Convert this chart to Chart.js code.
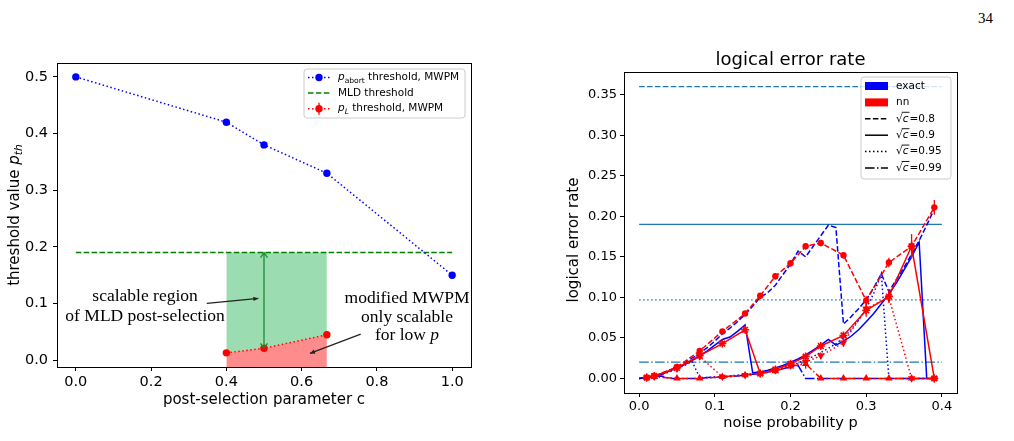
<!DOCTYPE html>
<html>
<head>
<meta charset="utf-8">
<title>threshold and logical error rate</title>
<script src="https://cdn.jsdelivr.net/npm/chart.js@4.4.1/dist/chart.umd.min.js"></script>
<style>
  html, body { margin: 0; padding: 0; background: #fff; }
  body { position: relative; width: 1014px; height: 441px; overflow: hidden; }
  #pageNo { position: absolute; left: 978px; top: 10px; font: 15px 'Liberation Serif', 'DejaVu Serif', serif; color: #000; }
  #leftChart { position: absolute; left: 0; top: 40px; }
  #rightChart { position: absolute; left: 560px; top: 40px; }
</style>
</head>
<body>
<div id="pageNo">34</div>
<canvas id="leftChart" width="490" height="380"></canvas>
<canvas id="rightChart" width="430" height="401"></canvas>
<script>
// ---- left panel: thresholds vs post-selection parameter c ----
const cAbort = [0.0, 0.4, 0.5, 0.667, 1.0];
const pAbortTh = [0.5, 0.42, 0.38, 0.33, 0.15];
const cMld = [0.0, 1.0];
const mldTh = [0.19, 0.19];
const cPL = [0.4, 0.5, 0.667];
const pLTh = [0.013, 0.021, 0.045];
const pLErr = [0.002, 0.003, 0.003];
const leftXTicks = [0.0, 0.2, 0.4, 0.6, 0.8, 1.0];
const leftYTicks = [0.0, 0.1, 0.2, 0.3, 0.4, 0.5];

// ---- right panel: logical error rate vs noise probability p ----
const pExact = [0.00, 0.01, 0.02, 0.03, 0.04, 0.05, 0.06, 0.07, 0.08, 0.09,
                0.10, 0.11, 0.12, 0.13, 0.14, 0.15, 0.16, 0.17, 0.18, 0.19,
                0.20, 0.21, 0.22, 0.23, 0.24, 0.25, 0.26, 0.27, 0.28, 0.29,
                0.30, 0.31, 0.32, 0.33, 0.34, 0.35, 0.36, 0.37, 0.38, 0.39];
const exact08 = [0.000, 0.001, 0.003, 0.006, 0.010, 0.014, 0.019, 0.025, 0.031, 0.038,
                 0.046, 0.055, 0.062, 0.070, 0.079, 0.089, 0.100, 0.106, 0.115, 0.128,
                 0.141, 0.157, 0.150, 0.163, 0.176, 0.189, 0.186, 0.067, 0.076, 0.086,
                 0.097, 0.112, 0.129, 0.107, 0.122, 0.137, 0.153, 0.170, 0.189, 0.209];
const exact09 = [0.000, 0.001, 0.003, 0.005, 0.009, 0.013, 0.017, 0.022, 0.028, 0.034,
                 0.041, 0.048, 0.051, 0.058, 0.066, 0.007, 0.008, 0.010, 0.013, 0.016,
                 0.020, 0.024, 0.029, 0.035, 0.041, 0.048, 0.041, 0.046, 0.052, 0.060,
                 0.070, 0.080, 0.092, 0.104, 0.118, 0.134, 0.150, 0.168, 0.000, 0.000];
const exact095 = [0.000, 0.001, 0.002, 0.005, 0.008, 0.012, 0.016, 0.021, 0.001, 0.001,
                  0.002, 0.002, 0.003, 0.004, 0.005, 0.006, 0.007, 0.009, 0.011, 0.013,
                  0.016, 0.019, 0.023, 0.027, 0.032, 0.037, 0.043, 0.050, 0.060, 0.072,
                  0.086, 0.105, 0.129, 0.000, 0.000, 0.000, 0.000, 0.000, 0.000, 0.000];
const exact099 = [0.000, 0.001, 0.002, 0.003, 0.000, 0.000, 0.000, 0.000, 0.000, 0.001,
                  0.001, 0.002, 0.002, 0.003, 0.004, 0.005, 0.006, 0.008, 0.010, 0.012,
                  0.014, 0.016, 0.000, 0.000, 0.000, 0.000, 0.000, 0.000, 0.000, 0.000,
                  0.000, 0.000, 0.000, 0.000, 0.000, 0.000, 0.000, 0.000, 0.000, 0.000];
const pNN = [0.01, 0.02, 0.05, 0.08, 0.11, 0.14, 0.16, 0.18, 0.20, 0.22, 0.24, 0.27, 0.30, 0.33, 0.36, 0.39];
const nn08  = [0.001, 0.003, 0.014, 0.034, 0.058, 0.080, 0.102, 0.126, 0.142, 0.163, 0.167, 0.152, 0.096, 0.143, 0.163, 0.211];
const nn09  = [0.001, 0.003, 0.013, 0.028, 0.043, 0.060, 0.006, 0.011, 0.018, 0.027, 0.040, 0.053, 0.084, 0.101, 0.163, 0.000];
const nn095 = [0.001, 0.002, 0.012, 0.027, 0.002, 0.004, 0.006, 0.010, 0.016, 0.020, 0.028, 0.044, 0.086, 0.100, 0.000, 0.000];
const nn099 = [0.001, 0.002, 0.000, 0.000, 0.002, 0.004, 0.006, 0.009, 0.015, 0.018, 0.000, 0.000, 0.000, 0.000, 0.000, 0.000];
const err08  = [0.001, 0.001, 0.002, 0.003, 0.003, 0.003, 0.003, 0.004, 0.004, 0.004, 0.004, 0.004, 0.006, 0.006, 0.007, 0.009];
const err09  = [0.001, 0.001, 0.002, 0.003, 0.003, 0.003, 0.002, 0.002, 0.003, 0.003, 0.003, 0.004, 0.008, 0.008, 0.015, 0.001];
const err095 = [0.001, 0.001, 0.002, 0.003, 0.001, 0.001, 0.002, 0.002, 0.003, 0.005, 0.004, 0.005, 0.007, 0.006, 0.001, 0.001];
const err099 = [0.001, 0.001, 0.001, 0.001, 0.001, 0.001, 0.002, 0.002, 0.003, 0.006, 0.001, 0.001, 0.001, 0.001, 0.001, 0.001];
const sqrtC = ['0.8', '0.9', '0.95', '0.99'];
const thrLevels = [0.36, 0.19, 0.097, 0.02];
const thrRange = [0.0, 0.4];
const rightXTicks = [0.0, 0.1, 0.2, 0.3, 0.4];
const rightYTicks = [0.0, 0.05, 0.10, 0.15, 0.20, 0.25, 0.30, 0.35];

const FONT = "'DejaVu Sans', sans-serif";
const SERIF = "'Liberation Serif', 'DejaVu Serif', serif";
const DOT = [1.5, 2.5], DASH = [5.5, 2.4], DASHDOT = [9.6, 2.4, 1.5, 2.4];
const cStyles = [DASH, [], DOT, DASHDOT];
const BLUE = '#0000ff', RED = '#ff0000', TAB = '#1f77b4', GREEN = '#008000';

const pts = (xs, ys) => xs.map((x, i) => ({ x: x, y: ys[i] }));

// --- small drawing helpers ---
function richText(ctx, parts, x, y, size) {
  let cx = x;
  for (const [t, st] of parts) {
    if (st === 'sub') {
      ctx.font = (size * 0.72) + 'px ' + FONT;
      ctx.fillText(t, cx, y + size * 0.3);
    } else if (st === 'isub') {
      ctx.font = 'italic ' + (size * 0.72) + 'px ' + FONT;
      ctx.fillText(t, cx, y + size * 0.3);
    } else if (st === 'i') {
      ctx.font = 'italic ' + size + 'px ' + FONT;
      ctx.fillText(t, cx, y);
    } else if (st === 'sqrt') {
      ctx.font = size + 'px ' + FONT;
      ctx.fillText('\u221a', cx, y);
      cx += ctx.measureText('\u221a').width;
      ctx.font = 'italic ' + size + 'px ' + FONT;
      const w = ctx.measureText(t).width;
      ctx.fillText(t, cx, y);
      ctx.save();
      ctx.lineWidth = 0.9;
      ctx.setLineDash([]);
      ctx.beginPath();
      ctx.moveTo(cx - 1, y - size * 0.62);
      ctx.lineTo(cx + w + 1, y - size * 0.62);
      ctx.stroke();
      ctx.restore();
      cx += w + 1;
      continue;
    } else {
      ctx.font = size + 'px ' + FONT;
      ctx.fillText(t, cx, y);
    }
    cx += ctx.measureText(t).width;
  }
  return cx - x;
}

function measureRich(ctx, parts, size) {
  ctx.save();
  ctx.globalAlpha = 0;
  const w = richText(ctx, parts, 0, 0, size);
  ctx.restore();
  return w;
}

function legendBox(ctx, x, y, w, h) {
  ctx.save();
  ctx.beginPath();
  ctx.roundRect(x, y, w, h, 3);
  ctx.fillStyle = 'rgba(255,255,255,0.8)';
  ctx.fill();
  ctx.strokeStyle = '#cccccc';
  ctx.lineWidth = 1;
  ctx.stroke();
  ctx.restore();
}

function handleLine(ctx, x0, x1, y, color, dash) {
  ctx.save();
  ctx.strokeStyle = color;
  ctx.lineWidth = 1.5;
  ctx.setLineDash(dash);
  ctx.beginPath();
  ctx.moveTo(x0, y);
  ctx.lineTo(x1, y);
  ctx.stroke();
  ctx.restore();
}

function dot(ctx, x, y, r, color) {
  ctx.save();
  ctx.fillStyle = color;
  ctx.beginPath();
  ctx.arc(x, y, r, 0, Math.PI * 2);
  ctx.fill();
  ctx.restore();
}

function arrow(ctx, x0, y0, x1, y1, color) {
  const ang = Math.atan2(y1 - y0, x1 - x0);
  ctx.save();
  ctx.strokeStyle = color;
  ctx.fillStyle = color;
  ctx.lineWidth = 1.2;
  ctx.beginPath();
  ctx.moveTo(x0, y0);
  ctx.lineTo(x1, y1);
  ctx.stroke();
  ctx.beginPath();
  ctx.moveTo(x1, y1);
  ctx.lineTo(x1 - 5 * Math.cos(ang) + 2.2 * Math.sin(ang), y1 - 5 * Math.sin(ang) - 2.2 * Math.cos(ang));
  ctx.lineTo(x1 - 5 * Math.cos(ang) - 2.2 * Math.sin(ang), y1 - 5 * Math.sin(ang) + 2.2 * Math.cos(ang));
  ctx.closePath();
  ctx.fill();
  ctx.restore();
}

function frame(chart) {
  const { ctx, chartArea: a } = chart;
  ctx.save();
  ctx.strokeStyle = '#000';
  ctx.lineWidth = 1;
  ctx.strokeRect(Math.round(a.left) + 0.5, Math.round(a.top) + 0.5,
                 Math.round(a.right - a.left), Math.round(a.bottom - a.top));
  ctx.restore();
}

// vertical error bars for datasets that carry an errorBars array
const errorBarPlugin = {
  id: 'errorBars',
  afterDatasetsDraw(chart) {
    const { ctx } = chart;
    const ys = chart.scales.y;
    chart.data.datasets.forEach((ds, i) => {
      if (!ds.errorBars) return;
      const meta = chart.getDatasetMeta(i);
      ctx.save();
      ctx.strokeStyle = ds.borderColor;
      ctx.lineWidth = 1.3;
      meta.data.forEach((el, j) => {
        const v = ds.data[j].y, e = ds.errorBars[j];
        ctx.beginPath();
        ctx.moveTo(el.x, ys.getPixelForValue(v - e));
        ctx.lineTo(el.x, ys.getPixelForValue(v + e));
        ctx.stroke();
      });
      ctx.restore();
    });
  }
};

function axisCommon(size, pad) {
  return {
    grid: { drawOnChartArea: false, drawTicks: true, tickLength: 4, color: '#000', lineWidth: 1 },
    border: { display: true, color: '#000', width: 1 },
    ticks: { color: '#000', font: { family: FONT, size: size }, padding: pad, maxRotation: 0 }
  };
}

// ================= left chart =================
const leftDecor = {
  id: 'leftDecor',
  afterDatasetsDraw(chart) {
    const { ctx, scales: { x, y } } = chart;
    // double-headed arrow between p_L threshold and MLD threshold
    const ax = x.getPixelForValue(cPL[1]);
    const yLo = y.getPixelForValue(pLTh[1]);
    const yHi = y.getPixelForValue(mldTh[0]);
    ctx.save();
    ctx.strokeStyle = '#1e8c32';
    ctx.lineWidth = 1.3;
    ctx.beginPath();
    ctx.moveTo(ax, yLo); ctx.lineTo(ax, yHi);
    ctx.moveTo(ax - 3.5, yHi + 5); ctx.lineTo(ax, yHi); ctx.lineTo(ax + 3.5, yHi + 5);
    ctx.moveTo(ax - 3.5, yLo - 5); ctx.lineTo(ax, yLo); ctx.lineTo(ax + 3.5, yLo - 5);
    ctx.stroke();
    ctx.restore();

    // annotations
    ctx.save();
    ctx.fillStyle = '#000';
    ctx.font = '17.5px ' + SERIF;
    ctx.textAlign = 'center';
    ctx.textBaseline = 'middle';
    const t1x = x.getPixelForValue(0.184);
    ctx.fillText('scalable region', t1x, y.getPixelForValue(0.112));
    ctx.fillText('of MLD post-selection', t1x, y.getPixelForValue(0.078));
    const t2x = x.getPixelForValue(0.88);
    ctx.fillText('modified MWPM', t2x, y.getPixelForValue(0.109));
    ctx.fillText('only scalable', t2x, y.getPixelForValue(0.076));
    const w1 = ctx.measureText('for low ').width;
    ctx.font = 'italic 17.5px ' + SERIF;
    const w2 = ctx.measureText('p').width;
    ctx.textAlign = 'left';
    const sx = t2x - (w1 + w2) / 2, ly = y.getPixelForValue(0.043);
    ctx.font = '17.5px ' + SERIF;
    ctx.fillText('for low ', sx, ly);
    ctx.font = 'italic 17.5px ' + SERIF;
    ctx.fillText('p', sx + w1, ly);
    ctx.restore();
    arrow(ctx, x.getPixelForValue(0.348), y.getPixelForValue(0.1003),
          x.getPixelForValue(0.485), y.getPixelForValue(0.109), '#222');
    arrow(ctx, x.getPixelForValue(0.757), y.getPixelForValue(0.046),
          x.getPixelForValue(0.622), y.getPixelForValue(0.012), '#222');
  },
  afterDraw(chart) {
    const { ctx, chartArea: a } = chart;
    frame(chart);
    // y axis title with subscript
    ctx.save();
    ctx.fillStyle = '#000';
    ctx.textBaseline = 'middle';
    const parts = [['threshold value ', ''], ['p', 'i'], ['th', 'isub']];
    const w = measureRich(ctx, parts, 15);
    ctx.translate(15, (a.top + a.bottom) / 2);
    ctx.rotate(-Math.PI / 2);
    richText(ctx, parts, -w / 2, 0, 15);
    ctx.restore();

    // legend
    const bx = a.right - 167, by = a.top + 6;
    legendBox(ctx, bx, by, 161, 49);
    ctx.save();
    ctx.fillStyle = '#000';
    ctx.textBaseline = 'middle';
    const r1 = by + 8.5, r2 = by + 24, r3 = by + 39.7;
    handleLine(ctx, bx + 4, bx + 26, r1, BLUE, DOT);
    dot(ctx, bx + 15, r1, 3.7, BLUE);
    richText(ctx, [['p', 'i'], ['abort', 'sub'], [' threshold, MWPM', '']], bx + 34, r1, 10.5);
    handleLine(ctx, bx + 4, bx + 26, r2, GREEN, DASH);
    richText(ctx, [['MLD threshold', '']], bx + 34, r2, 10.5);
    handleLine(ctx, bx + 4, bx + 26, r3, RED, DOT);
    dot(ctx, bx + 15, r3, 3.7, RED);
    ctx.strokeStyle = RED; ctx.lineWidth = 1.3;
    ctx.beginPath(); ctx.moveTo(bx + 15, r3 - 6); ctx.lineTo(bx + 15, r3 + 6); ctx.stroke();
    richText(ctx, [['p', 'i'], ['L', 'isub'], [' threshold, MWPM', '']], bx + 34, r3, 10.5);
    ctx.restore();
  }
};

const lx = axisCommon(14.5, 3), ly = axisCommon(14.5, 5);
new Chart(document.getElementById('leftChart').getContext('2d'), {
  type: 'line',
  data: {
    datasets: [
      { data: pts(cAbort, pAbortTh), borderColor: BLUE, borderWidth: 1.5, borderDash: DOT,
        pointRadius: 3.7, pointBackgroundColor: BLUE, pointBorderWidth: 0, fill: false },
      { data: pts(cMld, mldTh), borderColor: GREEN, borderWidth: 1.5, borderDash: DASH,
        pointRadius: 0, fill: false },
      { data: pts(cPL, pLTh), borderColor: RED, borderWidth: 1.5, borderDash: DOT,
        pointRadius: 3.7, pointBackgroundColor: RED, pointBorderWidth: 0,
        fill: 'start', backgroundColor: 'rgba(255,0,0,0.45)', errorBars: pLErr },
      { data: pts(cPL, cPL.map(() => mldTh[0])), borderWidth: 0, pointRadius: 0,
        fill: 2, backgroundColor: 'rgba(46,184,92,0.48)' }
    ]
  },
  options: {
    responsive: false,
    animation: false,
    events: [],
    layout: { padding: { left: 0, top: 23, right: 19, bottom: 0 } },
    plugins: { legend: { display: false }, tooltip: { enabled: false } },
    scales: {
      x: Object.assign(lx, {
        type: 'linear', min: -0.05, max: 1.05,
        afterBuildTicks: s => { s.ticks = leftXTicks.map(v => ({ value: v })); },
        afterFit: s => { s.height = 53; },
        ticks: Object.assign(lx.ticks, { callback: v => v.toFixed(1) }),
        title: { display: true, text: 'post-selection parameter c', color: '#000',
                 font: { family: FONT, size: 15 }, padding: { top: 0, bottom: 11 } }
      }),
      y: Object.assign(ly, {
        type: 'linear', min: -0.012, max: 0.5245,
        afterBuildTicks: s => { s.ticks = leftYTicks.map(v => ({ value: v })); },
        afterFit: s => { s.width = 57; },
        ticks: Object.assign(ly.ticks, { callback: v => v.toFixed(1) })
      })
    }
  },
  plugins: [leftDecor, errorBarPlugin]
});

// ================= right chart =================
const rightDecor = {
  id: 'rightDecor',
  afterDraw(chart) {
    const { ctx, chartArea: a } = chart;
    frame(chart);
    ctx.save();
    ctx.fillStyle = '#000';
    ctx.textAlign = 'center';
    ctx.textBaseline = 'middle';
    ctx.font = '18px ' + FONT;
    ctx.fillText('logical error rate', (a.left + a.right) / 2, 20);
    ctx.translate(14, 200);
    ctx.rotate(-Math.PI / 2);
    ctx.font = '15px ' + FONT;
    ctx.fillText('logical error rate', 0, 0);
    ctx.restore();

    // legend
    const bx = a.right - 96, by = a.top + 5;
    legendBox(ctx, bx, by, 90, 102);
    ctx.save();
    ctx.fillStyle = '#000';
    ctx.strokeStyle = '#000';
    ctx.textBaseline = 'middle';
    const rowY = i => by + 9 + i * 16.4;
    ctx.fillStyle = BLUE; ctx.fillRect(bx + 4, rowY(0) - 4, 23, 8);
    ctx.fillStyle = RED; ctx.fillRect(bx + 4, rowY(1) - 4, 23, 8);
    ctx.fillStyle = '#000';
    richText(ctx, [['exact', '']], bx + 35, rowY(0), 10.5);
    richText(ctx, [['nn', '']], bx + 35, rowY(1), 10.5);
    sqrtC.forEach((c, k) => {
      handleLine(ctx, bx + 4, bx + 27, rowY(k + 2), '#000', cStyles[k]);
      richText(ctx, [['c', 'sqrt'], ['=' + c, '']], bx + 35, rowY(k + 2), 10.5);
    });
    ctx.restore();
  }
};

const exactSeries = [exact08, exact09, exact095, exact099];
const nnSeries = [nn08, nn09, nn095, nn099];
const nnErrs = [err08, err09, err095, err099];
const nnMarkers = ['circle', 'star', 'triangle', 'triangle'];
const nnRot = [0, 0, 180, 0];
const nnRadius = [3.2, 4, 4.3, 4.3];

const rightSets = [];
thrLevels.forEach((lvl, k) => {
  rightSets.push({ data: pts(thrRange, thrRange.map(() => lvl)), borderColor: TAB, borderWidth: 1.3,
                   borderDash: cStyles[k], pointRadius: 0, fill: false, order: 3 });
});
exactSeries.forEach((s, k) => {
  rightSets.push({ data: pts(pExact, s), borderColor: BLUE, borderWidth: 1.5, borderDash: cStyles[k],
                   pointRadius: 0, fill: false, order: 2 });
});
nnSeries.forEach((s, k) => {
  rightSets.push({ data: pts(pNN, s), borderColor: RED, borderWidth: 1.5, borderDash: cStyles[k],
                   pointStyle: nnMarkers[k], rotation: nnRot[k], pointRadius: nnRadius[k],
                   pointBackgroundColor: RED, pointBorderColor: RED, pointBorderWidth: k === 1 ? 1.6 : 0,
                   fill: false, order: 1, errorBars: nnErrs[k] });
});

const rx = axisCommon(13, 2), ry = axisCommon(13, 3);
new Chart(document.getElementById('rightChart').getContext('2d'), {
  type: 'line',
  data: { datasets: rightSets },
  options: {
    responsive: false,
    animation: false,
    events: [],
    layout: { padding: { left: 0, top: 32, right: 33, bottom: 0 } },
    plugins: { legend: { display: false }, tooltip: { enabled: false } },
    scales: {
      x: Object.assign(rx, {
        type: 'linear', min: -0.02, max: 0.42,
        afterBuildTicks: s => { s.ticks = rightXTicks.map(v => ({ value: v })); },
        afterFit: s => { s.height = 48; },
        ticks: Object.assign(rx.ticks, { callback: v => v.toFixed(1) }),
        title: { display: true, text: 'noise probability p', color: '#000',
                 font: { family: FONT, size: 14.5 }, padding: { top: 0, bottom: 9 } }
      }),
      y: Object.assign(ry, {
        type: 'linear', min: -0.018, max: 0.378,
        afterBuildTicks: s => { s.ticks = rightYTicks.map(v => ({ value: v })); },
        afterFit: s => { s.width = 64; },
        ticks: Object.assign(ry.ticks, { callback: v => v.toFixed(2) })
      })
    }
  },
  plugins: [rightDecor, errorBarPlugin]
});
</script>
</body>
</html>
